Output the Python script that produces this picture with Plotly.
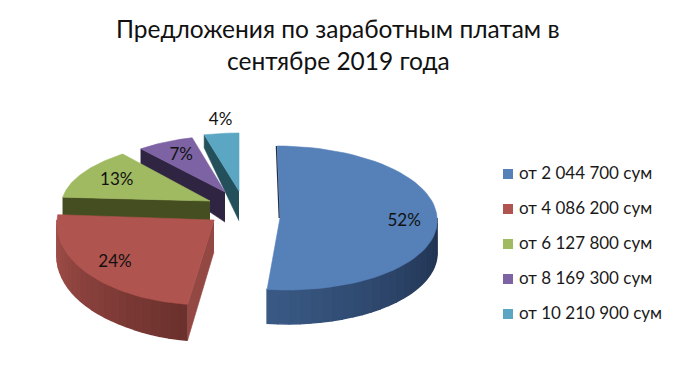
import numpy as np
import plotly.graph_objects as go

categories = ["от 2 044 700 сум", "от 4 086 200 сум", "от 6 127 800 сум", "от 8 169 300 сум", "от 10 210 900 сум"]
values = [52, 24, 13, 7, 4]
title_lines = ["Предложения по заработным платам в", "сентябре 2019 года"]

# Drawing geometry of the exploded tilted pie (pixels in the 680x369 frame)
apex = [(280, 218), (214, 220), (210, 201), (225, 192), (239, 191)]
rx = [157, 157, 148, 132, 140]
ry = [72, 85, 61, 56, 58]
skew_up = [0.04, -0.08, -0.15, 0.0, 0.0]
skew_down = [0.095, -0.08, -0.15, 0.0, 0.0]
label_f = [0.79, 0.79, 0.73, 0.73, 1.22]
top_col = ["#5580b8", "#b0544f", "#a0ba62", "#7d63a3", "#5ba6c3"]
radial_col = [None, "#944843", "#454e20", "#2f2543", "#24505c"]
wall_a = ["#1e2f4d", "#a34f4a", "#454e20", "#2f2543", "#24505c"]
wall_b = ["#3a5a85", "#6b302c", "#454e20", "#2f2543", "#24505c"]


def depth(y):
    return np.interp(y, [135, 195, 292, 305], [13, 31, 34, 36])


def mix(a, b, t):
    ca = [int(a[i:i + 2], 16) for i in (1, 3, 5)]
    cb = [int(b[i:i + 2], 16) for i in (1, 3, 5)]
    return "rgb(%d,%d,%d)" % tuple(round(p + (q - p) * t) for p, q in zip(ca, cb))


def pt(i, deg, f=1.0):
    th = np.radians(deg)
    dy = -ry[i] * np.cos(th) * f
    s = skew_up[i] if dy < 0 else skew_down[i]
    return apex[i][0] + rx[i] * np.sin(th) * f + s * dy, apex[i][1] + dy


def poly(xs, ys, col, lw=0.6):
    return go.Scatter(x=list(xs), y=list(ys), mode="lines", fill="toself", fillcolor=col,
                      line=dict(color=col, width=lw), hoverinfo="skip", showlegend=False)


fig = go.Figure()
total = sum(values)
edges = np.concatenate([[0], np.cumsum(values)]) / total * 360

for i in reversed(range(len(values))):
    a0, a1 = edges[i], edges[i + 1]
    ax, ay = apex[i]
    if i >= 1:
        cx, cy = pt(i, a0)
        fig.add_trace(poly([ax, cx, cx, ax], [ay, cy, cy + depth(cy), ay + depth(ay)], radial_col[i]))
    # outer curved wall
    lo, hi = max(a0, 90), min(a1, 270)
    if hi > lo:
        steps = np.linspace(lo, hi, 25)
        for j in range(len(steps) - 1):
            x0, y0 = pt(i, steps[j])
            x1, y1 = pt(i, steps[j + 1])
            t = (j + 0.5) / 24
            col = mix(wall_a[i], wall_b[i], t) if i == 0 else mix(wall_b[i], wall_a[i], t)
            fig.add_trace(poly([x0, x1, x1, x0], [y0, y1, y1 + depth(y1), y0 + depth(y0)], col, lw=1.5))
    # top face
    arc = [pt(i, d) for d in np.linspace(a0, a1, 60)]
    fig.add_trace(poly([ax] + [p[0] for p in arc] + [ax], [ay] + [p[1] for p in arc] + [ay], top_col[i]))
    if i == 0:
        tx, ty = pt(i, 0)
        fig.add_trace(go.Scatter(x=[tx - 0.8, ax - 0.8], y=[ty, ay], mode="lines",
                                 line=dict(color="#1e2f4d", width=1.2), hoverinfo="skip", showlegend=False))

for i, v in enumerate(values):
    mid = (edges[i] + edges[i + 1]) / 2
    lx, ly = pt(i, mid, label_f[i])
    fig.add_trace(go.Scatter(x=[lx + (3 if i == 4 else 0)], y=[ly], mode="text", text=[f"{round(v / total * 100)}%"],
                             textfont=dict(family="Lato", size=17, color="#111111"),
                             hoverinfo="skip", showlegend=False))

for i, name in enumerate(categories):
    fig.add_trace(go.Scatter(x=[508], y=[174 + 35 * i], mode="markers",
                             marker=dict(symbol="square", size=10, color=top_col[i]),
                             hoverinfo="skip", showlegend=False))
    fig.add_trace(go.Scatter(x=[519], y=[175 + 35 * i], mode="text", text=[name],
                             textposition="middle right",
                             textfont=dict(family="Lato", size=17, color="#1a1a1a"),
                             hoverinfo="skip", showlegend=False))

for line, y in zip(title_lines, [28, 60]):
    fig.add_annotation(x=338, y=y, xref="x", yref="y", text=line, showarrow=False,
                       font=dict(family="Lato", size=24.5, color="#111111"))

fig.update_layout(width=680, height=369, margin=dict(l=0, r=0, t=0, b=0), autosize=False,
                  paper_bgcolor="white", plot_bgcolor="white", showlegend=False,
                  xaxis=dict(range=[0, 680], visible=False, fixedrange=True),
                  yaxis=dict(range=[369, 0], visible=False, fixedrange=True))
fig.write_html("out.html", config={"displayModeBar": False},
               post_script="document.body.style.margin='0';document.documentElement.style.overflow='hidden';")
